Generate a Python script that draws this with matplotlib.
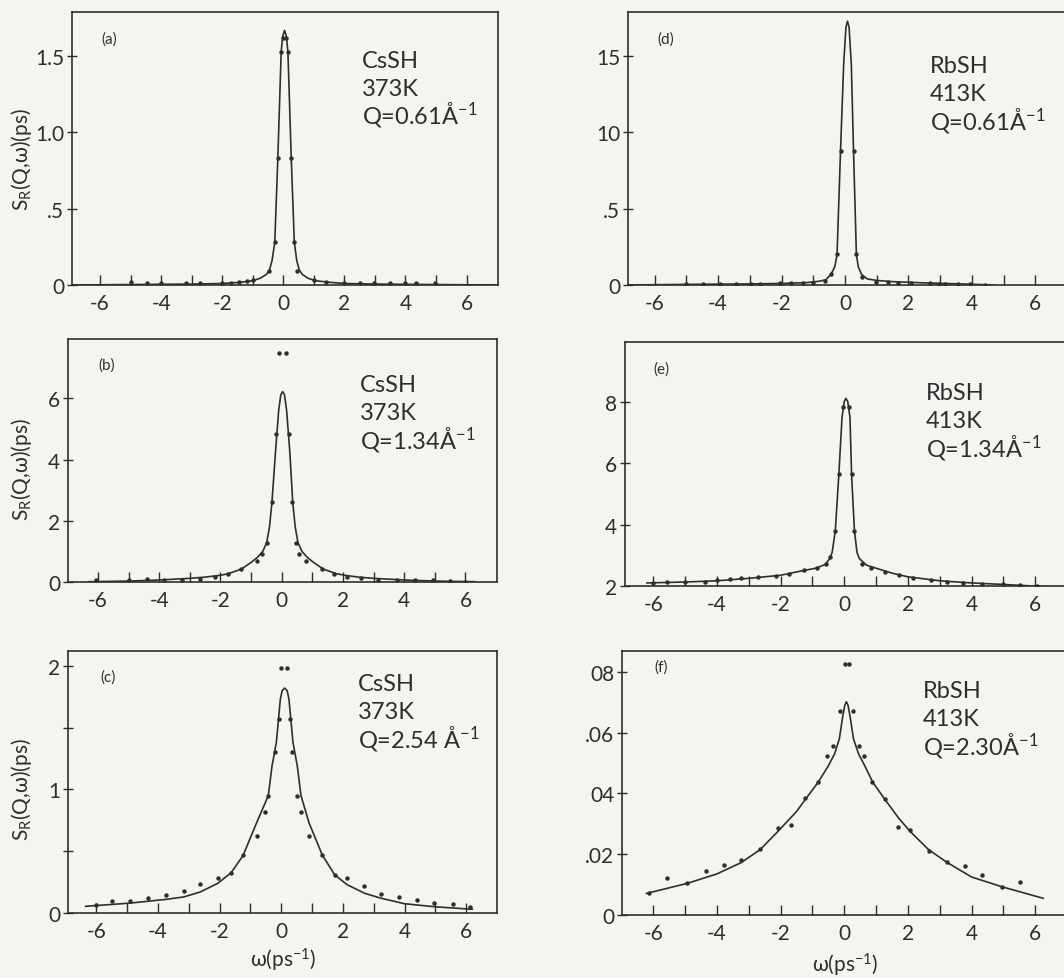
import numpy as np
import matplotlib
matplotlib.use("Agg")
from matplotlib import pyplot as plt

plt.rcParams['font.family'] = ['Lato', 'DejaVu Sans']
plt.rcParams['mathtext.default'] = 'regular'

BG = '#f4f4f0'
INK = '#2e2e2e'

# (a) CsSH, 373 K, Q = 0.61
a_fit_w = [-6.9, -5.0, -3.0, -2.0, -1.4, -1.0, -0.75, -0.55, -0.45, -0.37, -0.28, -0.18, -0.07, -0.02,
           0.04, 0.10, 0.15, 0.26, 0.36, 0.44, 0.52, 0.62, 0.8, 1.05, 1.5, 2.0, 3.0, 5.0, 7.0]
a_fit_s = [0.0, 0.003, 0.006, 0.01, 0.018, 0.028, 0.045, 0.07, 0.1, 0.16, 0.28, 0.83, 1.53, 1.63,
           1.67, 1.63, 1.53, 0.83, 0.28, 0.16, 0.1, 0.07, 0.045, 0.028, 0.018, 0.01, 0.006, 0.003, 0.0]
a_dot_w = [-4.98, -4.46, -3.99, -3.2, -2.72, -2.0, -1.72, -1.46, -1.19, -0.98, -0.46, -0.28, -0.18, -0.07,
           -0.02, 0.10, 0.15, 0.26, 0.36, 0.44, 0.99, 1.39, 1.99, 2.5, 2.98, 3.5, 3.98, 4.35, 4.98]
a_dot_s = [0.02, 0.012, 0.015, 0.01, 0.012, 0.015, 0.015, 0.02, 0.025, 0.03, 0.09, 0.28, 0.83, 1.53,
           1.62, 1.62, 1.53, 0.83, 0.28, 0.09, 0.03, 0.02, 0.015, 0.012, 0.015, 0.012, 0.015, 0.01, 0.012]

# (b) CsSH, 373 K, Q = 1.34
b_fit_w = [-6.3, -5.0, -4.0, -3.0, -2.5, -2.0, -1.75, -1.32, -1.0, -0.8, -0.62, -0.49, -0.4, -0.32, -0.2,
           -0.1, -0.03, 0.03, 0.09, 0.16, 0.26, 0.36, 0.44, 0.53, 0.66, 0.84, 1.04, 1.36, 1.79, 2.06,
           2.5, 3.0, 4.0, 5.0, 6.3]
b_fit_s = [0.01, 0.03, 0.065, 0.12, 0.16, 0.22, 0.27, 0.42, 0.64, 0.8, 1.0, 1.29, 1.8, 2.6, 4.3,
           5.6, 6.12, 6.22, 6.12, 5.6, 4.3, 2.6, 1.8, 1.29, 1.0, 0.8, 0.64, 0.42, 0.27, 0.22,
           0.16, 0.12, 0.065, 0.03, 0.01]
b_dot_w = [-6.05, -5.0, -4.4, -3.86, -3.26, -2.66, -2.17, -1.75, -1.32, -0.82, -0.63, -0.49, -0.32, -0.2,
           -0.1, 0.14, 0.24, 0.32, 0.45, 0.58, 0.8, 1.31, 1.7, 2.12, 2.6, 3.15, 3.75, 4.35, 4.95,
           5.5, 6.0]
b_dot_s = [0.05, 0.08, 0.09, 0.08, 0.07, 0.1, 0.17, 0.27, 0.42, 0.68, 0.9, 1.29, 2.6, 4.85,
           7.47, 7.47, 4.85, 2.6, 1.29, 0.9, 0.68, 0.42, 0.27, 0.17, 0.12, 0.08, 0.05, 0.05, 0.05,
           0.03, 0.01]

# (c) CsSH, 373 K, Q = 2.54
c_fit_w = [-6.35, -4.91, -3.75, -3.16, -2.63, -2.06, -1.63, -1.24, -0.8, -0.42, -0.3, -0.16, -0.03, 0.03,
           0.11, 0.19, 0.25, 0.38, 0.52, 0.64, 0.9, 1.33, 1.73, 2.13, 2.7, 3.23, 4.0, 5.0, 6.2]
c_fit_s = [0.054, 0.08, 0.11, 0.13, 0.17, 0.24, 0.325, 0.465, 0.73, 0.95, 1.19, 1.38, 1.73, 1.80,
           1.82, 1.80, 1.73, 1.38, 1.19, 0.95, 0.73, 0.47, 0.31, 0.23, 0.16, 0.12, 0.075, 0.05, 0.03]
c_dot_w = [-6.0, -5.5, -4.91, -4.34, -3.75, -3.16, -2.63, -2.06, -1.63, -1.24, -0.8, -0.54, -0.42, -0.21,
           -0.08, -0.005, 0.17, 0.28, 0.35, 0.52, 0.65, 0.89, 1.33, 1.73, 2.13, 2.7, 3.23, 3.83, 4.4,
           4.97, 5.56, 6.14]
c_dot_s = [0.067, 0.094, 0.097, 0.124, 0.148, 0.175, 0.237, 0.282, 0.325, 0.47, 0.62, 0.82, 0.95, 1.30,
           1.57, 1.98, 1.98, 1.57, 1.30, 0.95, 0.82, 0.62, 0.47, 0.31, 0.28, 0.22, 0.156, 0.129, 0.102,
           0.078, 0.075, 0.048]

# (d) RbSH, 413 K, Q = 0.61
d_fit_w = [-6.85, -5.0, -3.0, -2.0, -1.2, -0.8, -0.6, -0.44, -0.32, -0.25, -0.14, -0.04, 0.03, 0.08,
           0.13, 0.2, 0.27, 0.36, 0.42, 0.52, 0.7, 1.0, 1.5, 2.5, 3.5, 4.7]
d_fit_s = [0.0, 0.004, 0.007, 0.01, 0.016, 0.025, 0.035, 0.07, 0.12, 0.2, 0.88, 1.45, 1.69, 1.73,
           1.69, 1.45, 0.88, 0.2, 0.12, 0.07, 0.04, 0.03, 0.022, 0.014, 0.008, 0.0]
d_dot_w = [-5.0, -4.47, -3.95, -3.42, -2.95, -2.69, -2.06, -1.69, -1.32, -1.0, -0.63, -0.44, -0.25, -0.14,
           0.27, 0.36, 0.55, 0.99, 1.36, 1.67, 2.09, 2.67, 2.98, 3.14, 3.56, 3.93, 4.4]
d_dot_s = [0.005, 0.006, 0.007, 0.006, 0.008, 0.009, 0.01, 0.012, 0.014, 0.016, 0.026, 0.07, 0.2, 0.88,
           0.88, 0.2, 0.05, 0.02, 0.018, 0.015, 0.012, 0.01, 0.008, 0.008, 0.006, 0.004, 0.003]

# (e) RbSH, 413 K, Q = 1.34
e_fit_w = [-6.2, -5.0, -4.0, -3.0, -2.0, -1.3, -0.9, -0.6, -0.45, -0.38, -0.28, -0.17, -0.07, 0.0,
           0.05, 0.11, 0.18, 0.23, 0.32, 0.4, 0.47, 0.7, 1.0, 1.5, 2.0, 3.0, 4.0, 5.0, 6.3]
e_fit_s = [2.1, 2.13, 2.17, 2.25, 2.35, 2.5, 2.58, 2.7, 2.9, 3.1, 3.81, 5.64, 7.5, 8.02,
           8.12, 8.02, 7.5, 5.64, 3.81, 3.1, 2.9, 2.68, 2.58, 2.42, 2.3, 2.17, 2.1, 2.05, 1.98]
e_dot_w = [-6.02, -5.58, -5.0, -4.37, -4.0, -3.58, -3.26, -2.7, -2.16, -1.74, -1.26, -0.86, -0.58, -0.44,
           -0.28, -0.17, -0.03, 0.14, 0.23, 0.32, 0.56, 0.84, 1.29, 1.72, 2.16, 2.72, 3.24, 3.74, 4.32,
           5.0, 5.53, 6.07]
e_dot_s = [2.11, 2.13, 2.14, 2.14, 2.2, 2.24, 2.26, 2.29, 2.33, 2.4, 2.51, 2.58, 2.71, 2.93,
           3.81, 5.64, 7.84, 7.84, 5.64, 3.81, 2.73, 2.6, 2.46, 2.35, 2.27, 2.2, 2.14, 2.11, 2.08,
           2.05, 2.03, 2.0]

# (f) RbSH, 413 K, Q = 2.30
f_fit_w = [-6.21, -4.93, -4.0, -3.24, -2.64, -2.08, -1.5, -1.22, -0.82, -0.5, -0.3, -0.15, -0.05, 0.02,
           0.07, 0.12, 0.19, 0.29, 0.45, 0.65, 0.9, 1.28, 1.7, 2.07, 2.65, 3.23, 4.0, 4.95, 6.25]
f_fit_s = [0.0071, 0.0104, 0.0135, 0.0172, 0.0215, 0.0275, 0.034, 0.038, 0.0436, 0.049, 0.053, 0.058,
           0.065, 0.069, 0.0701, 0.069, 0.065, 0.058, 0.053, 0.049, 0.0436, 0.038, 0.032, 0.0275,
           0.0215, 0.0173, 0.0125, 0.0093, 0.0055]
f_dot_w = [-6.12, -5.56, -4.93, -4.33, -3.79, -3.24, -2.64, -2.08, -1.66, -1.22, -0.82, -0.54, -0.35, -0.12,
           0.02, 0.15, 0.28, 0.46, 0.63, 0.86, 1.28, 1.68, 2.07, 2.65, 3.23, 3.79, 4.32, 4.95, 5.52]
f_dot_s = [0.0071, 0.0123, 0.0104, 0.0146, 0.0165, 0.0182, 0.0216, 0.0285, 0.0296, 0.0385, 0.0436, 0.0522,
           0.0557, 0.0672, 0.0825, 0.0825, 0.0672, 0.0557, 0.0522, 0.0436, 0.0381, 0.029, 0.028, 0.0209,
           0.0173, 0.016, 0.0132, 0.0093, 0.0107]

W, H = 1064, 979


def px_rect(left, top, right, bottom):
    return [left / W, 1 - bottom / H, (right - left) / W, (bottom - top) / H]


def draw_panel(fig, rect, fit_w, fit_s, dot_w, dot_s, xlim, ylim, yticks, ylabels, tag, tag_xy,
               lines, note_xy):
    ax = fig.add_axes(rect)
    ax.set_facecolor('none')
    ax.plot(fit_w, fit_s, color=INK, lw=1.2, solid_joinstyle='round')
    ax.plot(dot_w, dot_s, ls='none', marker='o', ms=3.2, color=INK, mec='none')
    ax.set_xlim(*xlim)
    ax.set_ylim(*ylim)
    ax.set_xticks(range(-6, 7))
    ax.set_xticklabels([str(v) if v % 2 == 0 else '' for v in range(-6, 7)])
    ax.set_yticks(yticks)
    ax.set_yticklabels(ylabels)
    ax.tick_params(axis='x', direction='in', length=7, width=1.0, labelsize=15, pad=6, colors=INK)
    ax.tick_params(axis='y', direction='inout', length=7, width=1.0, labelsize=15, pad=2, colors=INK)
    for s in ax.spines.values():
        s.set_linewidth(1.2)
        s.set_color(INK)
    ax.text(tag_xy[0], tag_xy[1], tag, transform=ax.transAxes, fontsize=11, color=INK,
            ha='left', va='top')
    # one text per line so the superscript does not stretch the line pitch
    pitch = 28 / (rect[3] * H)
    for i, line in enumerate(lines):
        ax.text(note_xy[0], note_xy[1] - i * pitch, line, transform=ax.transAxes, fontsize=17,
                color=INK, ha='left', va='baseline')
    return ax


fig = plt.figure(figsize=(W / 100, H / 100), dpi=100, facecolor=BG)

draw_panel(fig, px_rect(72, 13, 498, 286), a_fit_w, a_fit_s, a_dot_w, a_dot_s,
           (-6.92, 7.03), (0, 1.79), [0, 0.5, 1.0, 1.5], ['0', '.5', '1.0', '1.5'],
           '(a)', (0.07, 0.93), ['CsSH', '373K', 'Q=0.61Å$^{-1}$'], (0.68, 0.80))
draw_panel(fig, px_rect(68, 340, 497, 583), b_fit_w, b_fit_s, b_dot_w, b_dot_s,
           (-6.98, 7.03), (0, 7.94), [0, 2, 4, 6], ['0', '2', '4', '6'],
           '(b)', (0.07, 0.925), ['CsSH', '373K', 'Q=1.34Å$^{-1}$'], (0.68, 0.785))
draw_panel(fig, px_rect(68, 652, 497, 914), c_fit_w, c_fit_s, c_dot_w, c_dot_s,
           (-6.92, 7.0), (0, 2.12), [0, 0.5, 1, 1.5, 2], ['0', '', '1', '', '2'],
           '(c)', (0.075, 0.93), ['CsSH', '373K', 'Q=2.54 Å$^{-1}$'], (0.676, 0.85))
draw_panel(fig, px_rect(628, 13, 1067, 286), d_fit_w, d_fit_s, d_dot_w, d_dot_s,
           (-6.84, 7.0), (0, 1.79), [0, 0.5, 1.0, 1.5], ['0', '.5', '10', '15'],
           '(d)', (0.068, 0.93), ['RbSH', '413K', 'Q=0.61Å$^{-1}$'], (0.688, 0.78))
draw_panel(fig, px_rect(625, 343, 1067, 587), e_fit_w, e_fit_s, e_dot_w, e_dot_s,
           (-6.89, 7.0), (2, 9.96), [2, 4, 6, 8], ['2', '4', '6', '8'],
           '(e)', (0.064, 0.922), ['RbSH', '413K', 'Q=1.34Å$^{-1}$'], (0.68, 0.765))
draw_panel(fig, px_rect(622, 652, 1067, 916), f_fit_w, f_fit_s, f_dot_w, f_dot_s,
           (-6.98, 7.0), (0, 0.0868), [0, 0.02, 0.04, 0.06, 0.08], ['0', '.02', '04', '.06', '08'],
           '(f)', (0.072, 0.97), ['RbSH', '413K', 'Q=2.30Å$^{-1}$'], (0.676, 0.825))

ylab = 'S$_{R}$(Q,ω)(ps)'
for yc in (160, 470, 790):
    fig.text(22 / W, 1 - yc / H, ylab, rotation=90, ha='center', va='center', fontsize=15, color=INK)

xlab = 'ω(ps$^{-1}$)'
fig.text(283 / W, 1 - 960 / H, xlab, ha='center', va='center', fontsize=15, color=INK)
fig.text(845 / W, 1 - 965 / H, xlab, ha='center', va='center', fontsize=15, color=INK)

fig.savefig('out.png', dpi=100, facecolor=BG)
